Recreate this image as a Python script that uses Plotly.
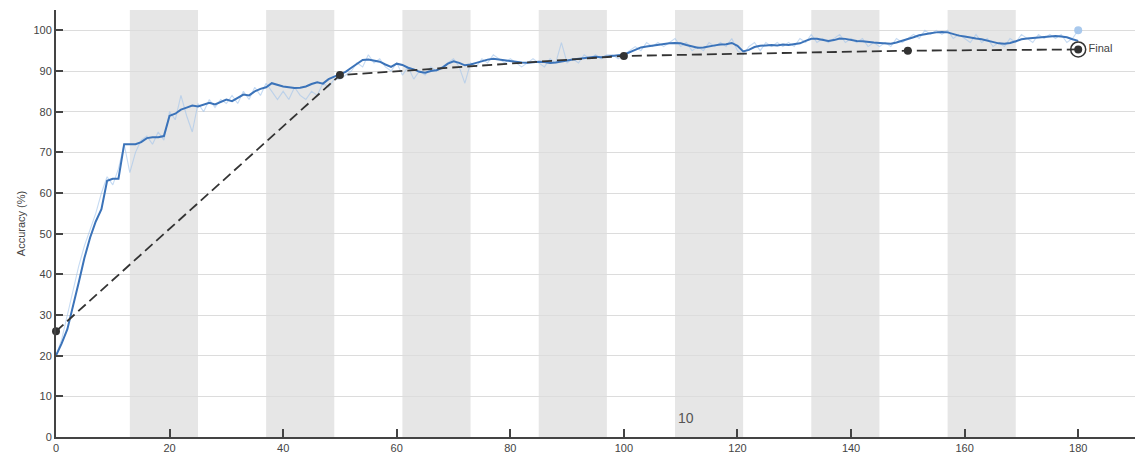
import plotly.graph_objects as go

epochs = list(range(0, 181))

smoothed = [
    20.0, 23.0, 26.5, 32.0, 38.0, 44.0, 49.0, 53.0, 56.0, 63.0,
    63.5, 63.5, 72.0, 72.0, 72.0, 72.5, 73.5, 73.7, 73.7, 74.0,
    79.0, 79.5, 80.5, 81.0, 81.5, 81.3, 81.8, 82.2, 81.8, 82.5,
    83.0, 82.6, 83.5, 84.2, 84.0, 85.0, 85.6, 86.0, 87.0, 86.6,
    86.2, 86.0, 85.8, 85.9, 86.2, 86.8, 87.2, 86.9, 88.0, 88.6,
    89.2, 89.8, 90.8, 91.8, 92.7, 92.8, 92.5, 92.3, 91.6, 91.0,
    91.8, 91.5, 90.8, 90.4, 89.8, 89.6, 90.0, 90.2, 90.8, 91.8,
    92.4, 92.0, 91.4, 91.6, 92.0, 92.4, 92.8, 93.0, 92.8, 92.6,
    92.5, 92.3, 92.1, 92.0, 92.1, 92.3, 92.2, 92.0, 92.1, 92.4,
    92.6, 92.8, 93.0, 93.2, 93.4, 93.5, 93.4, 93.6, 93.8, 93.9,
    94.0, 94.6, 95.3, 95.8, 96.0, 96.2, 96.5, 96.6, 96.8, 96.9,
    96.8, 96.4, 96.0, 95.7, 95.8, 96.1, 96.3, 96.5, 96.6, 96.9,
    96.2, 94.8, 95.2, 95.9, 96.2, 96.3, 96.4, 96.3, 96.5, 96.4,
    96.6, 96.8, 97.4, 97.9, 97.9, 97.6, 97.4, 97.6, 98.0, 97.9,
    97.6, 97.4, 97.3, 97.1, 97.0, 96.9, 96.8, 96.7, 97.0, 97.4,
    97.8, 98.3, 98.8, 99.1, 99.3, 99.5, 99.6, 99.5, 99.1, 98.7,
    98.5, 98.2, 98.0, 97.8, 97.5, 97.2, 96.8, 96.7, 96.9, 97.3,
    97.8, 98.0, 98.1, 98.2, 98.3, 98.4, 98.6, 98.5, 98.3, 97.8,
    97.4,
]

raw = [
    20, 24, 30, 36, 42, 47, 51, 55, 60, 64,
    62, 66, 72, 65, 70, 73, 74, 72, 75, 73,
    80, 78, 84, 79, 75, 82, 80, 83, 81, 83,
    82, 84, 82, 85, 83, 86, 84, 87, 85, 83,
    85, 83, 86, 84, 83, 85, 84, 87, 86, 88,
    88, 89, 90, 92, 91, 94, 92, 93, 91, 90,
    92, 89, 91, 88, 90, 89, 91, 90, 91, 92,
    93, 91, 87, 92, 91, 93, 92, 94, 93, 92,
    93, 92, 91, 92, 93, 92, 91, 93, 92, 97,
    92, 93, 92, 94, 93, 94, 93, 94, 94, 93,
    94, 95, 96, 95, 97, 96, 97, 96, 97, 98,
    96, 97, 95, 96, 95, 97, 96, 97, 96, 98,
    95, 94, 96, 97, 95, 97, 96, 97, 96, 97,
    96, 98, 97, 99, 97, 98, 97, 98, 99, 97,
    98, 97, 98, 96, 97, 96, 97, 96, 98, 97,
    98, 99, 98, 100, 99, 100, 99, 100, 98, 99,
    98, 97, 99, 97, 98, 96, 97, 96, 98, 97,
    99, 98, 97, 99, 98, 99, 98, 99, 97, 98,
    100,
]

checkpoint_x = [0, 50, 100, 150, 180]
checkpoint_y = [26.0, 89.0, 93.7, 95.0, 95.3]

band_starts = [13, 37, 61, 85, 109, 133, 157]
band_width = 12

x_ticks = list(range(0, 181, 20))
y_ticks = list(range(0, 101, 10))

fig = go.Figure()

fig.add_trace(go.Scatter(
    x=epochs, y=raw, mode="lines",
    line=dict(color="rgba(160,195,235,0.6)", width=1.1),
    hoverinfo="skip", showlegend=False))

fig.add_trace(go.Scatter(
    x=[epochs[-1]], y=[raw[-1]], mode="markers",
    marker=dict(color="rgba(160,195,235,0.9)", size=8),
    showlegend=False, cliponaxis=False))

fig.add_trace(go.Scatter(
    x=epochs, y=smoothed, mode="lines",
    line=dict(color="#3b73b9", width=2),
    showlegend=False))

fig.add_trace(go.Scatter(
    x=checkpoint_x, y=checkpoint_y, mode="lines+markers",
    line=dict(color="#333333", width=1.8, dash="10px,5px"),
    marker=dict(color="#333333", size=8),
    showlegend=False, cliponaxis=False))

fig.add_trace(go.Scatter(
    x=[checkpoint_x[-1]], y=[checkpoint_y[-1]], mode="markers+text",
    marker=dict(color="rgba(0,0,0,0)", size=15, line=dict(color="#333333", width=1.5)),
    text=["Final"], textposition="middle right",
    textfont=dict(size=11, color="#444444"),
    showlegend=False, cliponaxis=False))

for s in band_starts:
    fig.add_shape(type="rect", xref="x", yref="paper",
                  x0=s, x1=s + band_width, y0=0, y1=1,
                  fillcolor="#e6e6e6", line=dict(width=0), layer="below")

fig.add_annotation(x=111, y=4.7, text="10", showarrow=False,
                   font=dict(size=14, color="#555555"))

fig.update_layout(
    width=1135, height=459,
    margin=dict(l=56, r=0, t=10, b=22),
    plot_bgcolor="white", paper_bgcolor="white",
    font=dict(family="Liberation Sans, Arial, sans-serif", size=11, color="#444444"),
    showlegend=False,
)

fig.update_xaxes(
    range=[0, 190], tickvals=x_ticks, ticks="inside", ticklen=8,
    tickcolor="#444444", tickwidth=1.5,
    tickfont=dict(size=11, color="#444444"),
    showline=True, linecolor="#444444", linewidth=2,
    showgrid=False, zeroline=False,
)
fig.update_yaxes(
    range=[0, 105], tickvals=y_ticks, ticks="inside", ticklen=7,
    tickcolor="#444444", tickwidth=1.5,
    tickfont=dict(size=11, color="#444444"),
    showline=True, linecolor="#444444", linewidth=2,
    showgrid=True, gridcolor="#dcdcdc", gridwidth=1, zeroline=False,
    title=dict(text="Accuracy (%)", font=dict(size=11, color="#444444"), standoff=6),
)

fig.write_html("out.html")
